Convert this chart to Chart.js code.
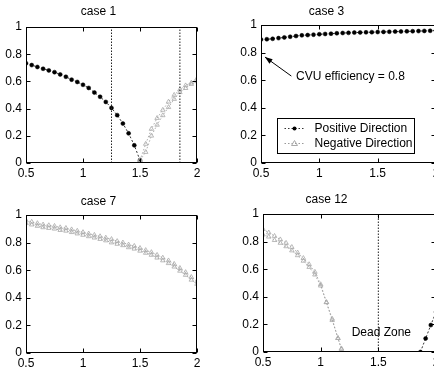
<!DOCTYPE html>
<html>
<head>
<meta charset="utf-8">
<script src="https://cdn.jsdelivr.net/npm/chart.js@4.4.1/dist/chart.umd.min.js"></script>
<style>
  html, body { margin: 0; padding: 0; background: #fff; overflow: hidden; width: 434px; height: 375px; position: relative; }
  canvas { position: absolute; }
</style>
</head>
<body>
<canvas id="c1" width="217" height="185" style="left:0;top:0"></canvas>
<canvas id="c3" width="254" height="185" style="left:217px;top:0"></canvas>
<canvas id="c7" width="217" height="187" style="left:0;top:188px"></canvas>
<canvas id="c12" width="256" height="187" style="left:217px;top:188px"></canvas>
<script>
// speed ratio grid used by most series
var xs = [0.5, 0.55, 0.6, 0.65, 0.7, 0.75, 0.8, 0.85, 0.9, 0.95, 1.0,
          1.05, 1.1, 1.15, 1.2, 1.25, 1.3, 1.35, 1.4, 1.45, 1.5,
          1.55, 1.6, 1.65, 1.7, 1.75, 1.8, 1.85, 1.9, 1.95, 2.0];

var xTicks = [0.5, 1, 1.5, 2];
var yTicks = [0, 0.2, 0.4, 0.6, 0.8, 1];

// case 1
var pos1 = [0.733, 0.72, 0.706, 0.693, 0.681, 0.668, 0.651, 0.634, 0.613, 0.596, 0.575,
            0.552, 0.518, 0.487, 0.449, 0.405, 0.352, 0.29, 0.218, 0.13, 0.02,
            null, null, null, null, null, null, null, null, null, null];
var neg1 = [null, null, null, null, null, null, null, null, null, null, null,
            null, null, null, null, null, null, null, null, null, 0.02,
            0.14, 0.25, 0.33, 0.39, 0.45, 0.50, 0.54, 0.57, 0.59, 0.62];
var neg1b = [null, null, null, null, null, null, null, null, null, null, null,
             null, null, null, null, null, null, null, null, null, 0.02,
             0.08, 0.20, 0.28, 0.35, 0.41, 0.47, 0.52, 0.55, 0.58, 0.60];
var marks1 = [1.25, 1.85];

// case 3
var pos3 = [0.895, 0.897, 0.90, 0.905, 0.91, 0.915, 0.92, 0.925, 0.927, 0.93, 0.933,
            0.935, 0.937, 0.94, 0.942, 0.943, 0.945, 0.946, 0.947, 0.948, 0.949,
            0.95, 0.951, 0.952, 0.953, 0.954, 0.955, 0.956, 0.957, 0.958, 0.96];

// case 7
var neg7 = [0.96, 0.95, 0.94, 0.93, 0.925, 0.92, 0.91, 0.905, 0.895, 0.885, 0.875,
            0.865, 0.855, 0.845, 0.835, 0.825, 0.81, 0.80, 0.785, 0.775, 0.76,
            0.745, 0.73, 0.71, 0.69, 0.67, 0.645, 0.615, 0.585, 0.55, 0.52];
var neg7b = [0.94, 0.93, 0.92, 0.91, 0.905, 0.90, 0.89, 0.885, 0.875, 0.865, 0.855,
             0.845, 0.835, 0.825, 0.815, 0.80, 0.79, 0.78, 0.765, 0.755, 0.74,
             0.725, 0.71, 0.69, 0.67, 0.65, 0.625, 0.595, 0.565, 0.53, 0.50];

// case 12
var x12 = [0.5, 0.55, 0.6, 0.65, 0.7, 0.75, 0.8, 0.85, 0.9, 0.95, 1.0, 1.05, 1.1, 1.15, 1.18];
var neg12 = [0.89, 0.865, 0.84, 0.815, 0.79, 0.76, 0.72, 0.68, 0.635, 0.58, 0.49, 0.36, 0.24, 0.10, 0.025];
var neg12b = [0.85, 0.835, 0.81, 0.79, 0.765, 0.735, 0.70, 0.66, 0.615, 0.56, 0.48, 0.36, 0.23, 0.10, 0.02];
var x12p = [1.865, 1.91, 1.955, 2.0];
var pos12 = [0.0, 0.098, 0.195, 0.29];
var marks12 = [1.5];

Chart.defaults.font.family = '"Liberation Sans", Arial, sans-serif';
Chart.defaults.font.size = 12;
Chart.defaults.color = '#000';

function pts(x, y) {
    var out = [];
    for (var i = 0; i < x.length; i++) {
        if (y[i] !== null) out.push({x: x[i], y: y[i]});
    }
    return out;
}

function posSet(data) {
    return {data: data, showLine: true, borderColor: '#333', borderWidth: 1, borderDash: [2, 2],
            pointStyle: 'circle', pointRadius: 2, pointBackgroundColor: '#000', pointBorderColor: '#000', pointBorderWidth: 0.5};
}
function negSet(data) {
    return {data: data, showLine: true, borderColor: '#999', borderWidth: 0.8, borderDash: [1.5, 2],
            pointStyle: 'triangle', pointRadius: 2.6, pointBackgroundColor: 'rgba(0,0,0,0)', pointBorderColor: '#aaa', pointBorderWidth: 0.8};
}
function markSet(x) {
    return {data: [{x: x, y: 0}, {x: x, y: 1}], showLine: true, borderColor: '#222', borderWidth: 1,
            borderDash: [1.5, 1.5], pointRadius: 0};
}

// box, inward ticks, text notes, arrow and legend
var framePlugin = {
    id: 'frame',
    afterDatasetsDraw: function(chart, args, opts) {
        var ctx = chart.ctx, a = chart.chartArea;
        var xS = chart.scales.x, yS = chart.scales.y;
        var L = Math.round(a.left) + 0.5, R = Math.round(a.right) - 0.5;
        var T = Math.round(a.top) + 0.5, B = Math.round(a.bottom) - 0.5;
        ctx.save();
        ctx.strokeStyle = '#000';
        ctx.lineWidth = 1;
        ctx.setLineDash([]);
        ctx.strokeRect(L, T, R - L, B - T);
        ctx.beginPath();
        xS.ticks.forEach(function(t) {
            var p = Math.round(xS.getPixelForValue(t.value)) + 0.5;
            ctx.moveTo(p, B); ctx.lineTo(p, B - 4);
            ctx.moveTo(p, T); ctx.lineTo(p, T + 4);
        });
        yS.ticks.forEach(function(t) {
            var p = Math.round(yS.getPixelForValue(t.value)) + 0.5;
            ctx.moveTo(L, p); ctx.lineTo(L + 4, p);
            ctx.moveTo(R, p); ctx.lineTo(R - 4, p);
        });
        ctx.stroke();

        ctx.font = '12px "Liberation Sans", Arial, sans-serif';
        ctx.fillStyle = '#000';
        ctx.textBaseline = 'middle';
        (opts.texts || []).forEach(function(t) {
            ctx.textAlign = t.align || 'left';
            ctx.fillText(t.text, xS.getPixelForValue(t.x), yS.getPixelForValue(t.y));
        });

        (opts.arrows || []).forEach(function(ar) {
            var x0 = xS.getPixelForValue(ar.from[0]), y0 = yS.getPixelForValue(ar.from[1]);
            var x1 = xS.getPixelForValue(ar.to[0]), y1 = yS.getPixelForValue(ar.to[1]);
            var ang = Math.atan2(y1 - y0, x1 - x0);
            ctx.beginPath();
            ctx.moveTo(x0, y0); ctx.lineTo(x1, y1);
            ctx.stroke();
            ctx.beginPath();
            ctx.moveTo(x1, y1);
            ctx.lineTo(x1 - 8 * Math.cos(ang - 0.35), y1 - 8 * Math.sin(ang - 0.35));
            ctx.lineTo(x1 - 8 * Math.cos(ang + 0.35), y1 - 8 * Math.sin(ang + 0.35));
            ctx.closePath();
            ctx.fill();
        });

        var lg = opts.legend;
        if (lg) {
            var bx0 = Math.round(xS.getPixelForValue(lg.x0)) + 0.5, bx1 = Math.round(xS.getPixelForValue(lg.x1)) + 0.5;
            var by0 = Math.round(yS.getPixelForValue(lg.y0)) + 0.5, by1 = Math.round(yS.getPixelForValue(lg.y1)) + 0.5;
            ctx.fillStyle = '#fff';
            ctx.fillRect(bx0, by0, bx1 - bx0, by1 - by0);
            ctx.strokeStyle = '#000';
            ctx.strokeRect(bx0, by0, bx1 - bx0, by1 - by0);
            lg.items.forEach(function(it, i) {
                var y = by0 + 10 + i * 15;
                var sx = bx0 + 7;
                ctx.save();
                ctx.strokeStyle = it.line;
                ctx.lineWidth = 1;
                ctx.setLineDash([1.5, 2]);
                ctx.beginPath();
                ctx.moveTo(sx, y); ctx.lineTo(sx + 20, y);
                ctx.stroke();
                ctx.setLineDash([]);
                if (it.marker === 'circle') {
                    ctx.fillStyle = '#000';
                    ctx.beginPath(); ctx.arc(sx + 10, y, 2, 0, Math.PI * 2); ctx.fill();
                } else {
                    ctx.strokeStyle = '#aaa';
                    ctx.beginPath();
                    ctx.moveTo(sx + 10, y - 3); ctx.lineTo(sx + 13, y + 2); ctx.lineTo(sx + 7, y + 2);
                    ctx.closePath(); ctx.stroke();
                }
                ctx.restore();
                ctx.fillStyle = '#000';
                ctx.textAlign = 'left';
                ctx.fillText(it.label, sx + 30, y);
            });
        }
        ctx.restore();
    }
};

function makeChart(id, title, datasets, lay, notes) {
    return new Chart(document.getElementById(id), {
        type: 'scatter',
        data: {datasets: datasets},
        options: {
            responsive: false,
            animation: false,
            layout: {padding: {left: 0, right: lay.right, top: 0, bottom: 0}},
            scales: {
                x: {
                    type: 'linear', min: 0.5, max: 2,
                    afterBuildTicks: function(s) { s.ticks = xTicks.map(function(v) { return {value: v}; }); },
                    afterFit: function(s) { s.height = lay.xh; },
                    grid: {display: false, drawTicks: false},
                    border: {display: false},
                    ticks: {padding: 3, color: '#000', maxRotation: 0,
                            callback: function(v) { return String(v); }}
                },
                y: {
                    type: 'linear', min: 0, max: 1,
                    afterBuildTicks: function(s) { s.ticks = yTicks.map(function(v) { return {value: v}; }); },
                    afterFit: function(s) { s.width = lay.yw; },
                    grid: {display: false, drawTicks: false},
                    border: {display: false},
                    ticks: {padding: 4, color: '#000',
                            callback: function(v) { return String(v); }}
                }
            },
            plugins: {
                legend: {display: false},
                tooltip: {enabled: false},
                title: {display: true, text: title, color: '#000', font: {size: 12, weight: 'normal'},
                        padding: {top: lay.tt, bottom: lay.tb}},
                frame: notes || {}
            }
        },
        plugins: [framePlugin]
    });
}

makeChart('c1', 'case 1', [
    markSet(marks1[0]), markSet(marks1[1]),
    negSet(pts(xs, neg1)), negSet(pts(xs, neg1b)),
    posSet(pts(xs, pos1))
], {right: 20, xh: 22, yw: 26, tt: 4.8, tb: 7.8});

makeChart('c3', 'case 3', [
    posSet(pts(xs, pos3))
], {right: 35, xh: 22, yw: 44, tt: 4.8, tb: 5.8}, {
    texts: [{text: 'CVU efficiency = 0.8', x: 0.8, y: 0.623}],
    arrows: [{from: [0.76, 0.63], to: [0.534, 0.768]}],
    legend: {x0: 0.637, x1: 1.81, y0: 0.326, y1: 0.072, items: [
        {label: 'Positive Direction', line: '#333', marker: 'circle'},
        {label: 'Negative Direction', line: '#999', marker: 'triangle'}
    ]}
});

makeChart('c7', 'case 7', [
    negSet(pts(xs, neg7)), negSet(pts(xs, neg7b))
], {right: 20, xh: 22, yw: 26, tt: 6.8, tb: 5.8});

makeChart('c12', 'case 12', [
    markSet(marks12[0]),
    negSet(pts(x12, neg12)), negSet(pts(x12, neg12b)),
    posSet(pts(x12p, pos12))
], {right: 37, xh: 23, yw: 46, tt: 4.8, tb: 6.8}, {
    texts: [{text: 'Dead Zone', x: 1.526, y: 0.14, align: 'center'}]
});
</script>
</body>
</html>
